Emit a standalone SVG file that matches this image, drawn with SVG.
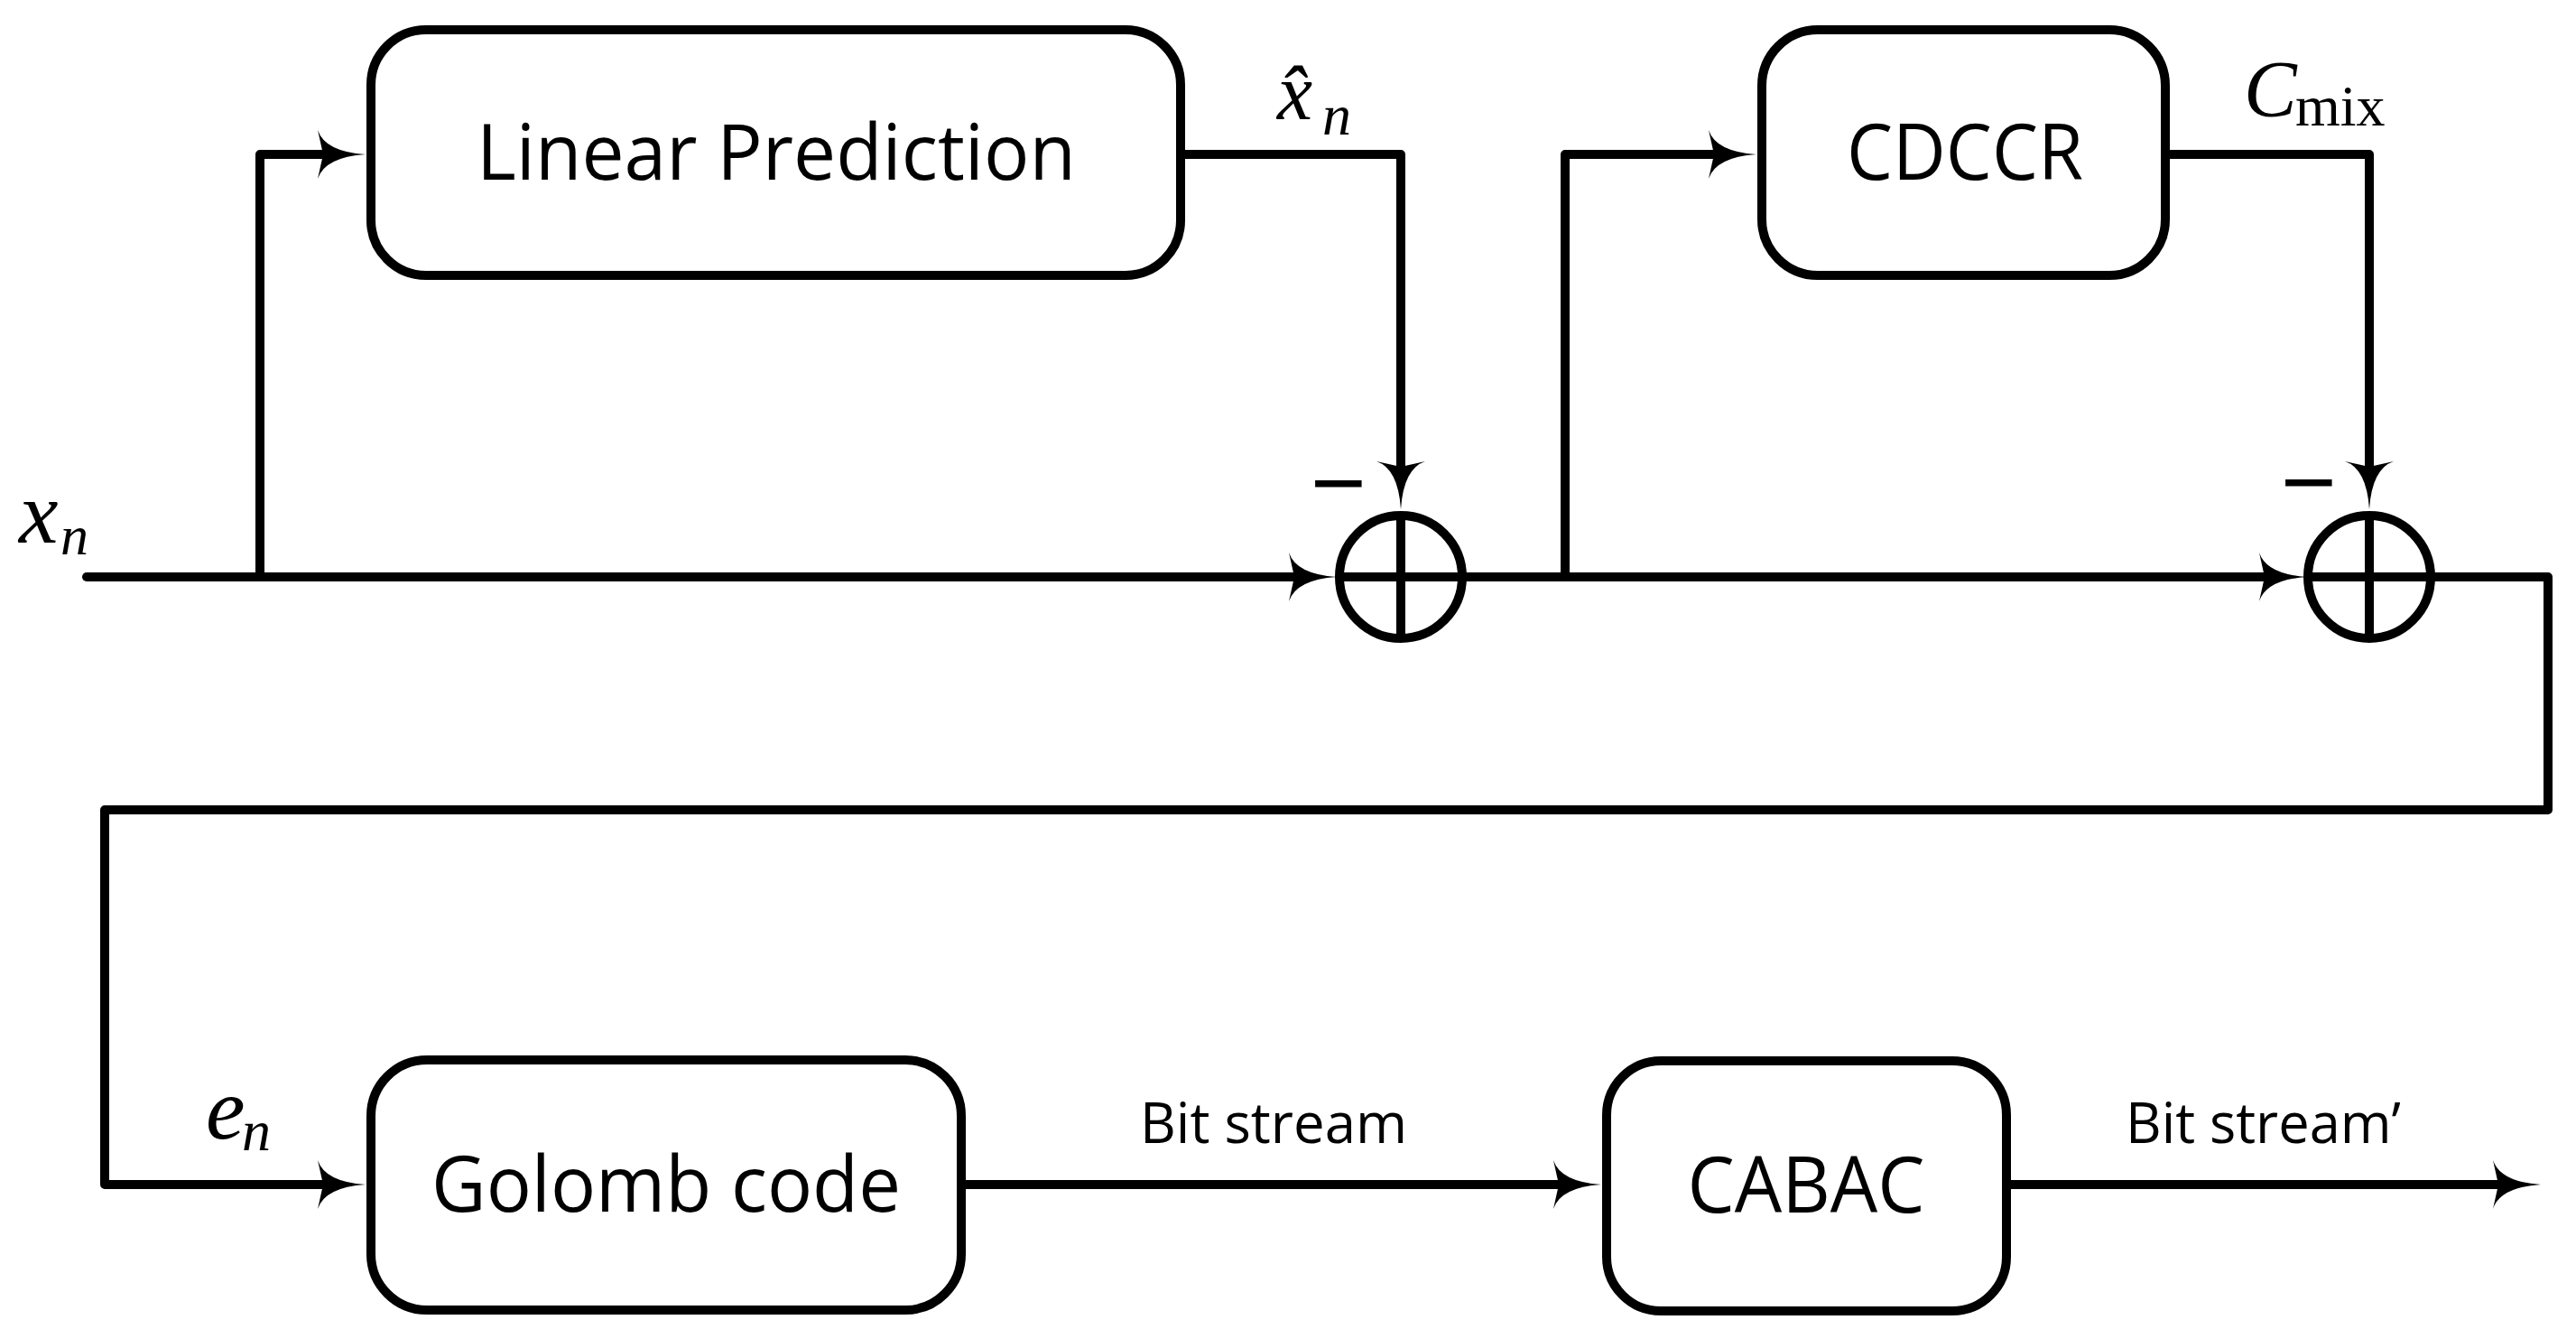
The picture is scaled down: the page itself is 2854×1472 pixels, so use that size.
<svg xmlns="http://www.w3.org/2000/svg" width="2854" height="1472" viewBox="0 0 2854 1472">
<style>
.box{fill:#fff;stroke:#000;stroke-width:10}
.ln{fill:none;stroke:#000;stroke-width:10;stroke-linejoin:round}
.sum{fill:#fff;stroke:#000;stroke-width:10}
.lbl{font-family:"Open Sans","Liberation Sans",sans-serif;font-size:86px;fill:#000;text-anchor:middle}
.sm{font-family:"Open Sans","Liberation Sans",sans-serif;font-size:62px;fill:#000}
.mi{font-family:"Liberation Serif","Times New Roman",serif;font-style:italic;fill:#000}
.up{font-style:normal}
.minus{font-family:"Liberation Sans",Arial,sans-serif;font-size:106px;fill:#000;text-anchor:middle}
</style>
<defs>
<marker id="ah" markerUnits="userSpaceOnUse" viewBox="-56 -30 60 60" markerWidth="60" markerHeight="60" refX="-30" refY="0" orient="auto" overflow="visible">
<path d="M0,0 Q-45,-3 -53,-27 L-47,0 L-53,27 Q-45,3 0,0 Z" fill="#000"/>
</marker>
</defs>
<rect width="2854" height="1472" fill="#fff"/>

<g id="connectors">
<path class="ln" d="M96,639 H1451" stroke-linecap="round" marker-end="url(#ah)"/>
<path class="ln" d="M288,639 V171 H375" marker-end="url(#ah)"/>
<path class="ln" d="M1308,171 H1552 V534" marker-end="url(#ah)"/>
<path class="ln" d="M1620,639 H2526" marker-end="url(#ah)"/>
<path class="ln" d="M1734,639 V171 H1916" marker-end="url(#ah)"/>
<path class="ln" d="M2399,171 H2625 V534" marker-end="url(#ah)"/>
<path class="ln" d="M2693,639 H2823 V897 H116 V1312 H375" marker-end="url(#ah)"/>
<path class="ln" d="M1065,1312 H1744" marker-end="url(#ah)"/>
<path class="ln" d="M2223,1312 H2785" marker-end="url(#ah)"/>
</g>

<g id="linear-prediction">
<rect class="box" x="411" y="33" width="897" height="272" rx="61" ry="61"/>
<text class="lbl" x="860" y="199" textLength="664" lengthAdjust="spacingAndGlyphs">Linear Prediction</text>
</g>

<g id="cdccr">
<rect class="box" x="1952" y="33" width="447" height="272" rx="62" ry="62"/>
<text class="lbl" x="2177" y="199" textLength="262" lengthAdjust="spacingAndGlyphs">CDCCR</text>
</g>

<g id="sum1">
<circle class="sum" cx="1552" cy="639" r="68"/>
<line class="ln" x1="1552" y1="571" x2="1552" y2="707"/>
<line class="ln" x1="1484" y1="639" x2="1620" y2="639"/>
<text class="minus" x="1483" y="571">−</text>
</g>

<g id="sum2">
<circle class="sum" cx="2625" cy="639" r="68"/>
<line class="ln" x1="2625" y1="571" x2="2625" y2="707"/>
<line class="ln" x1="2557" y1="639" x2="2693" y2="639"/>
<text class="minus" x="2558" y="570">−</text>
</g>

<g id="golomb">
<rect class="box" x="411" y="1174" width="654" height="277" rx="62" ry="62"/>
<text class="lbl" x="738" y="1342" textLength="520" lengthAdjust="spacingAndGlyphs">Golomb code</text>
</g>

<g id="cabac">
<rect class="box" x="1780" y="1175" width="443" height="277" rx="60" ry="60"/>
<text class="lbl" x="2001" y="1343" textLength="263" lengthAdjust="spacingAndGlyphs">CABAC</text>
</g>

<g id="labels">
<text class="mi" x="21" y="601" font-size="98">x</text>
<text class="mi" x="67" y="614" font-size="62">n</text>

<text class="mi" x="1415" y="132" font-size="88">x̂</text>
<text class="mi" x="1465" y="149" font-size="64">n</text>

<text class="mi" x="2486" y="128" font-size="88">C<tspan class="up" x="2543" y="139" font-size="64">mix</tspan></text>

<text class="mi" x="228" y="1261" font-size="98">e</text>
<text class="mi" x="268" y="1274" font-size="64">n</text>

<text class="sm" x="1263" y="1266" textLength="296" lengthAdjust="spacingAndGlyphs">Bit stream</text>
<text class="sm" x="2355" y="1266" textLength="305" lengthAdjust="spacingAndGlyphs">Bit stream’</text>
</g>
</svg>
